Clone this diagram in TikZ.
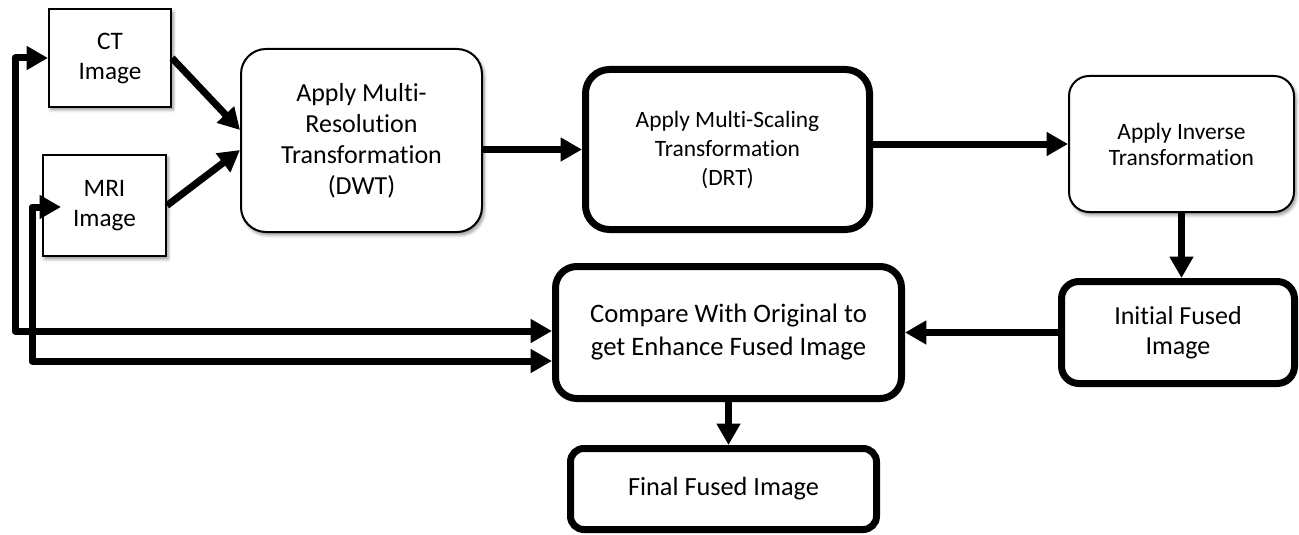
\documentclass[tikz,border=0pt]{standalone}
\usepackage{fontspec}
\setmainfont{Carlito}[Ligatures=NoCommon]
\usetikzlibrary{arrows.meta,calc,shadows.blur}

\begin{document}
\begin{tikzpicture}[x=0.75pt,y=-0.75pt,
  every node/.style={inner sep=0pt,align=center},
  softshadow/.style={blur shadow={shadow xshift=1.5pt,shadow yshift=-2.2pt,
      shadow blur radius=2.5pt,shadow blur steps=6,shadow opacity=45}},
  thinbox/.style={draw,line width=1.5pt,fill=white,softshadow},
  thickbox/.style={draw,line width=5.25pt,fill=white},
  flow/.style={line width=5.25pt,-{Triangle[length=16pt,width=17pt]}},
  feedback/.style={line width=5.25pt,line join=round,
      {Triangle[length=16pt,width=17pt]}-{Triangle[length=16pt,width=17pt]}},
  ]
\useasboundingbox (0,0) rectangle (1299,535);

% input images
\node[thinbox,minimum width=91.5pt,minimum height=72.75pt,
      font=\fontsize{18.9pt}{22.5pt}\selectfont] (ct) at (110,58) {CT\\Image};
\node[thinbox,minimum width=92.25pt,minimum height=75.75pt,
      font=\fontsize{18.9pt}{22.5pt}\selectfont] (mri) at (104.5,205.5) {MRI\\Image};

% processing chain
\node[thinbox,rounded corners=18.75pt,minimum width=180.75pt,minimum height=137.25pt,
      font=\fontsize{19.5pt}{23.25pt}\selectfont] (dwt) at (361.5,140.5)
      {Apply Multi-\\Resolution\\Transformation\\(DWT)};
\node[thickbox,rounded corners=18pt,minimum width=213pt,minimum height=120pt,
      font=\fontsize{17.6pt}{21.75pt}\selectfont] (drt) at (727.5,149.5)
      {Apply Multi-Scaling\\Transformation\\(DRT)};
\node[thinbox,rounded corners=15pt,minimum width=168.75pt,minimum height=102pt,
      font=\fontsize{17.6pt}{19.5pt}\selectfont] (inv) at (1181.5,144)
      {Apply Inverse\\Transformation};
\node[thickbox,rounded corners=13pt,minimum width=174.75pt,minimum height=76.5pt,
      font=\fontsize{19.5pt}{22.5pt}\selectfont] (init) at (1178,332.5)
      {Initial Fused\\Image};
\node[thickbox,rounded corners=16pt,minimum width=259.5pt,minimum height=99pt,
      font=\fontsize{20pt}{24.75pt}\selectfont] (cmp) at (728.5,332.5)
      {Compare With Original to\\get Enhance Fused Image};
\node[thickbox,rounded corners=10pt,minimum width=229.5pt,minimum height=60.75pt,
      font=\fontsize{19.7pt}{23pt}\selectfont] (fin) at (723.5,489)
      {Final Fused Image};

% connectors
\draw[flow] (ct.east) -- ($(dwt.west)+(0,-10.5)$);
\draw[flow] (mri.east) -- ($(dwt.west)+(0,9.5)$);
\draw[flow] (dwt.east |- drt.west) -- (drt.west);
\draw[flow] (drt.east |- inv.west) -- (inv.west);
\draw[flow] (inv.south) -- (inv.south |- init.north);
\draw[flow] (init.west) -- (cmp.east);
\draw[flow] (cmp.south) -- (cmp.south |- fin.north);

% feedback of the source images into the comparison
\coordinate (ctbus) at (15,331);
\coordinate (mribus) at (32,361);
\coordinate (mriin) at ($(mri.west)+(19,1.5)$);
\draw[feedback] (ct.west) -| (ctbus) -- (ctbus -| cmp.west);
\draw[feedback] (mriin) -| (mribus) -- (mribus -| cmp.west);
\end{tikzpicture}
\end{document}
